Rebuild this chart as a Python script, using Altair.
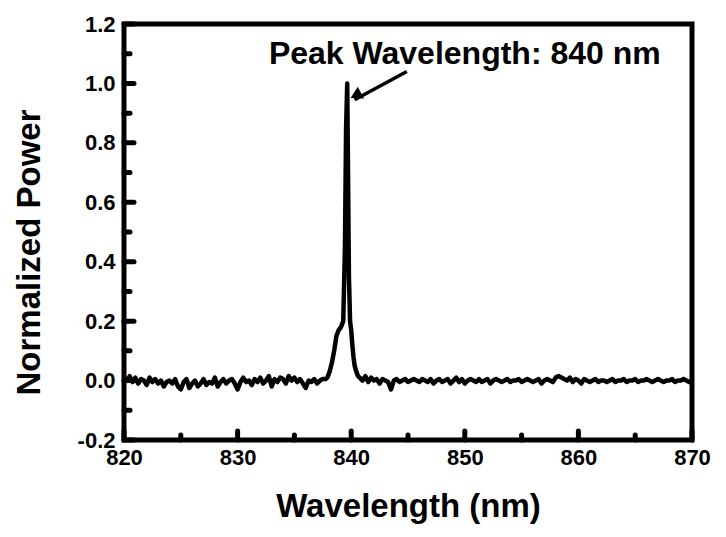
import altair as alt
import pandas as pd

# ---- data ----
left_base = [0.01, 0.00, 0.015, -0.005, 0.01, -0.01, 0.005, 0.0, -0.015, 0.01,
             -0.005, 0.005, -0.01, 0.0, -0.02, -0.005, 0.0, -0.01, 0.005, -0.02,
             -0.03, -0.005, 0.005, -0.025, -0.01, 0.0, -0.02, -0.01, 0.005, -0.015,
             -0.005, -0.01, 0.01, -0.02, -0.005, 0.005, -0.01, 0.0, 0.005, -0.01,
             -0.03, -0.005, 0.01, -0.005, 0.0, -0.015, 0.005, -0.005, 0.01, -0.01,
             0.0, 0.015, -0.02, 0.005, -0.005, 0.01, 0.005, -0.01, 0.015, 0.0,
             0.01, -0.005, 0.005, -0.01, -0.025, 0.0, -0.005, 0.005, -0.01, 0.0,
             0.005, 0.005]
left_start = 820.0

peak_x = [837.9, 838.1, 838.3, 838.5, 838.7, 838.9, 839.1, 839.3, 839.45, 839.55,
          839.65, 839.72, 839.8, 839.9, 840.0, 840.1, 840.2, 840.3, 840.45, 840.6]
peak_y = [0.01, 0.03, 0.06, 0.10, 0.15, 0.17, 0.18, 0.20, 0.45, 0.85,
          1.00, 0.70, 0.35, 0.20, 0.17, 0.12, 0.08, 0.05, 0.03, 0.015]

right_base = [0.01, 0.0, 0.015, -0.005, 0.01, 0.0, 0.005, -0.01, 0.005, 0.0,
              -0.005, -0.03, 0.0, 0.005, -0.005, 0.0, 0.005, -0.005, 0.0, 0.005,
              0.0, -0.005, 0.005, 0.0, -0.005, 0.005, -0.01, 0.0, 0.005, -0.005,
              0.0, 0.005, -0.01, 0.0, 0.01, -0.005, 0.005, -0.01, 0.0, 0.005,
              0.0, -0.005, 0.005, -0.005, 0.0, 0.005, -0.01, 0.0, 0.005, 0.0,
              -0.005, 0.0, 0.005, -0.005, 0.0, 0.0, 0.005, -0.005, 0.0, 0.005,
              0.0, -0.005, 0.0, 0.005, -0.01, 0.0, 0.005, 0.0, -0.005, 0.01,
              0.015, 0.01, 0.005, 0.0, 0.01, -0.005, 0.005, 0.0, -0.01, 0.005,
              0.0, -0.005, 0.0, 0.005, -0.005, 0.0, 0.0, -0.005, 0.0, 0.005,
              -0.005, 0.0, 0.0, 0.005, -0.005, 0.0, 0.0, 0.005, -0.005, 0.0,
              0.0, 0.005, 0.0, -0.005, 0.0, 0.005, 0.0, -0.005, 0.0, 0.0,
              0.005, -0.005, 0.0, 0.0, 0.005, 0.0, -0.005, 0.0]
right_start = 840.75
step = 0.25

x_major = [820, 830, 840, 850, 860, 870]
x_minor = [825, 835, 845, 855, 865]
y_major = [-0.2, 0.0, 0.2, 0.4, 0.6, 0.8, 1.0, 1.2]
y_minor = [-0.1, 0.1, 0.3, 0.5, 0.7, 0.9, 1.1]

annot_text = "Peak Wavelength: 840 nm"
annot_x, annot_y = 850.0, 1.10
arrow_start = (844.9, 1.04)
arrow_tip = (840.3, 0.945)

# ---- build table ----
xs = [left_start + step * i for i in range(len(left_base))] + peak_x + \
     [right_start + step * i for i in range(len(right_base))]
ys = left_base + peak_y + right_base
spec = pd.DataFrame({"wl": xs, "p": ys})

W, H = 568, 416
FONT = "Liberation Sans"

xscale = alt.Scale(domain=[820, 870], nice=False, zero=False)
yscale = alt.Scale(domain=[-0.2, 1.2], nice=False, zero=False)

line = alt.Chart(spec).mark_line(color="black", strokeWidth=4.5, strokeJoin="round").encode(
    x=alt.X("wl:Q", scale=xscale, title="Wavelength (nm)",
            axis=alt.Axis(values=x_major, format="d", domain=False, ticks=False, grid=False,
                          labelFlush=False, labelOverlap=False,
                          labelFont=FONT, labelFontWeight="bold", labelFontSize=22,
                          labelColor="black", labelPadding=7,
                          titleFont=FONT, titleFontWeight="bold", titleFontSize=33,
                          titleColor="black", titlePadding=22)),
    y=alt.Y("p:Q", scale=yscale, title="Normalized Power",
            axis=alt.Axis(values=y_major, domain=False, ticks=False, grid=False,
                          labelFlush=False, labelOverlap=False,
                          labelExpr="datum.value < 0 ? '-' + format(-datum.value, '.1f') : format(datum.value, '.1f')",
                          labelFont=FONT, labelFontWeight="bold", labelFontSize=22,
                          labelColor="black", labelPadding=9,
                          titleFont=FONT, titleFontWeight="bold", titleFontSize=33,
                          titleColor="black", titlePadding=31, titleY=228)),
)

xt_major = alt.Chart(pd.DataFrame({"t": x_major})).mark_rule(
    color="black", strokeWidth=5, strokeCap="round").encode(
    x=alt.X("t:Q", scale=xscale), y=alt.value(H), y2=alt.value(H - 9))
xt_minor = alt.Chart(pd.DataFrame({"t": x_minor})).mark_rule(
    color="black", strokeWidth=5, strokeCap="round").encode(
    x=alt.X("t:Q", scale=xscale), y=alt.value(H), y2=alt.value(H - 5))
yt_major = alt.Chart(pd.DataFrame({"t": y_major})).mark_rule(
    color="black", strokeWidth=5, strokeCap="round").encode(
    y=alt.Y("t:Q", scale=yscale), x=alt.value(0), x2=alt.value(10))
yt_minor = alt.Chart(pd.DataFrame({"t": y_minor})).mark_rule(
    color="black", strokeWidth=5, strokeCap="round").encode(
    y=alt.Y("t:Q", scale=yscale), x=alt.value(0), x2=alt.value(6))

annot = alt.Chart(pd.DataFrame({"x": [annot_x], "y": [annot_y], "t": [annot_text]})).mark_text(
    font=FONT, fontWeight="bold", fontSize=32, color="black", align="center", baseline="middle"
).encode(x=alt.X("x:Q", scale=xscale), y=alt.Y("y:Q", scale=yscale), text="t:N")

arrow_df = pd.DataFrame({"x": [arrow_start[0]], "y": [arrow_start[1]],
                         "x2": [arrow_tip[0]], "y2": [arrow_tip[1]]})
arrow_line = alt.Chart(arrow_df).mark_rule(color="black", strokeWidth=3.5).encode(
    x=alt.X("x:Q", scale=xscale), y=alt.Y("y:Q", scale=yscale), x2="x2:Q", y2="y2:Q")
arrow_head = alt.Chart(pd.DataFrame({"x": [arrow_tip[0] + 0.25], "y": [arrow_tip[1] + 0.018]})).mark_point(
    shape="triangle", filled=True, color="black", size=180, angle=242, opacity=1).encode(
    x=alt.X("x:Q", scale=xscale), y=alt.Y("y:Q", scale=yscale))

chart = alt.layer(line, xt_major, xt_minor, yt_major, yt_minor, arrow_line, arrow_head, annot).properties(
    width=W, height=H, background="white"
).configure_view(stroke="black", strokeWidth=5)

chart.save("out.html", embed_options={"renderer": "svg", "actions": False})
